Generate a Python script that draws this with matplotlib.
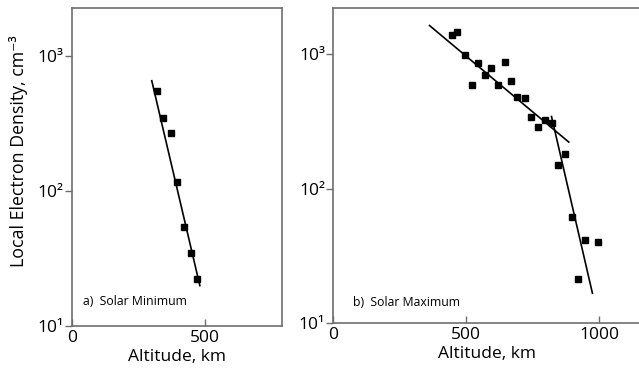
import matplotlib
matplotlib.use("Agg")
import matplotlib.pyplot as plt

plt.rcParams['font.family'] = ['Open Sans', 'DejaVu Sans']

# solar minimum
min_alt = [318, 343, 371, 395, 421, 446, 470]
min_dens = [551, 346, 267, 117, 54.5, 34.9, 22.2]
min_fit_alt = [300, 481]
min_fit_dens = [656, 19.9]

# solar maximum
max_alt = [445, 467, 495, 520, 543, 571, 592, 619, 645, 668, 693, 720,
           744, 769, 795, 821, 845, 871, 897, 922, 947, 996]
max_dens = [1365, 1455, 970, 585, 851, 701, 781, 585, 867, 632, 479, 471,
            340, 288, 323, 308, 149, 179, 61.2, 21.2, 41.8, 40.4]
max_fit1_alt = [362, 886]
max_fit1_dens = [1618, 221]
max_fit2_alt = [821, 975]
max_fit2_dens = [342, 16.7]

ytick_vals = [10, 100, 1000]
ytick_labels = ['10¹', '10²', '10³']

fig = plt.figure(figsize=(6.39, 3.79), dpi=100)
ax1 = fig.add_axes([0.1127, 0.1398, 0.3286, 0.8391])
ax2 = fig.add_axes([0.5216, 0.1469, 0.4800, 0.8320])

spine_col = '#6e6e6e'


def style(ax, xmax, ymax, xticks):
    ax.set_yscale('log')
    ax.set_xlim(0, xmax)
    ax.set_ylim(10, ymax)
    ax.set_yticks(ytick_vals)
    ax.set_yticklabels(ytick_labels, fontsize=12.5)
    ax.yaxis.set_minor_locator(matplotlib.ticker.NullLocator())
    ax.set_xticks(xticks)
    ax.set_xticklabels([str(t) for t in xticks], fontsize=12.5)
    ax.tick_params(axis='y', direction='out', length=5, width=1, color=spine_col, pad=1)
    ax.tick_params(axis='x', direction='in', length=5, width=1, color=spine_col, pad=3)
    for s in ax.spines.values():
        s.set_color(spine_col)
        s.set_linewidth(1.2)
    ax.set_xlabel('Altitude, km', fontsize=12.5, labelpad=2)


style(ax1, 790, 2268, [0, 500])
style(ax2, 1154, 2183, [0, 500, 1000])
ax2.spines['right'].set_visible(False)

ax1.plot(min_fit_alt, min_fit_dens, color='black', lw=1.2)
ax1.plot(min_alt, min_dens, 's', color='black', ms=5)
ax1.text(0.05, 0.065, 'a)  Solar Minimum', transform=ax1.transAxes, fontsize=8.8)
ax1.set_ylabel('Local Electron Density, cm⁻³', fontsize=12.8)
ax1.yaxis.set_label_coords(-0.21, 0.55)

ax2.plot(max_fit1_alt, max_fit1_dens, color='black', lw=1.2)
ax2.plot(max_fit2_alt, max_fit2_dens, color='black', lw=1.2)
ax2.plot(max_alt, max_dens, 's', color='black', ms=5)
ax2.text(0.064, 0.055, 'b)  Solar Maximum', transform=ax2.transAxes, fontsize=8.8)

fig.savefig('out.png', dpi=100)
